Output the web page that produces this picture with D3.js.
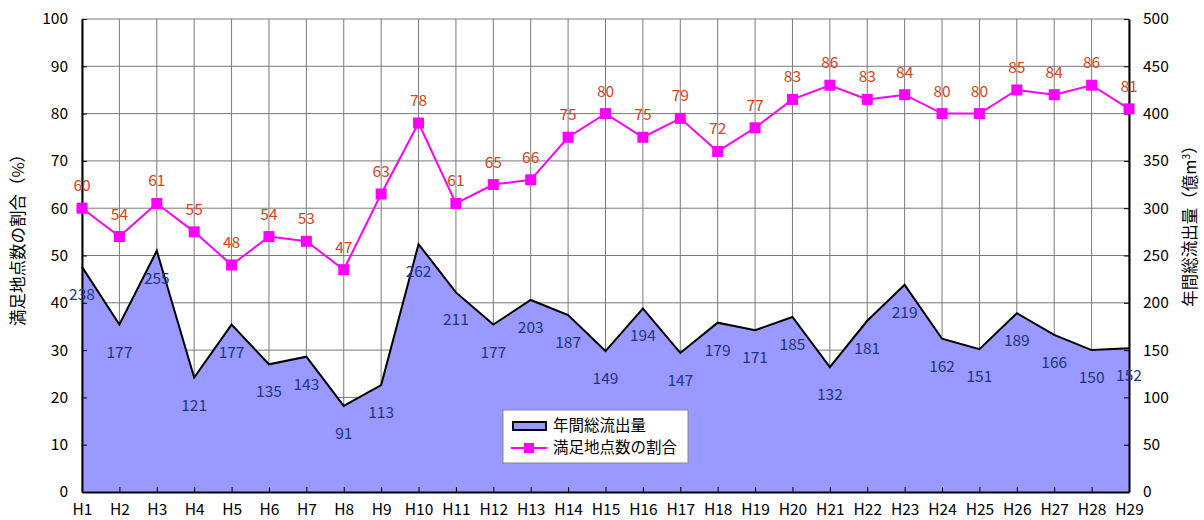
<!DOCTYPE html>
<html>
<head>
<meta charset="utf-8">
<script src="https://cdn.jsdelivr.net/npm/d3@7"></script>
<style>
  body { margin: 0; background: #fff; }
  svg text { font-family: "Noto Sans CJK JP", "Noto Sans", sans-serif; }
</style>
</head>
<body>
<script>
// 年度
var categories = ["H1","H2","H3","H4","H5","H6","H7","H8","H9","H10","H11","H12","H13","H14","H15",
  "H16","H17","H18","H19","H20","H21","H22","H23","H24","H25","H26","H27","H28","H29"];
// 年間総流出量 (億m3)
var flowValues = [238,177,255,121,177,135,143,91,113,262,211,177,203,187,149,
  194,147,179,171,185,132,181,219,162,151,189,166,150,152];
// 満足地点数の割合 (%)
var ratioValues = [60,54,61,55,48,54,53,47,63,78,61,65,66,75,80,
  75,79,72,77,83,86,83,84,80,80,85,84,86,81];
var leftTicks = [0,10,20,30,40,50,60,70,80,90,100];
var rightTicks = [0,50,100,150,200,250,300,350,400,450,500];

var width = 1204, height = 520;
var plotLeft = 82, plotRight = 1129, plotTop = 19, plotBottom = 492;

var svg = d3.select("body").append("svg").attr("width", width).attr("height", height);

var x = d3.scalePoint().domain(categories).range([plotLeft, plotRight]);
var yL = d3.scaleLinear().domain([0, 100]).range([plotBottom, plotTop]);
var yR = d3.scaleLinear().domain([0, 500]).range([plotBottom, plotTop]);

// grid
svg.append("g").selectAll("line")
  .data(leftTicks)
  .enter().append("line")
  .attr("x1", plotLeft).attr("x2", plotRight)
  .attr("y1", function(d){ return yL(d); }).attr("y2", function(d){ return yL(d); })
  .attr("stroke", "#7a7a7a").attr("stroke-width", 1);
svg.append("g").selectAll("line")
  .data(categories)
  .enter().append("line")
  .attr("x1", function(d){ return x(d); }).attr("x2", function(d){ return x(d); })
  .attr("y1", plotTop).attr("y2", plotBottom)
  .attr("stroke", "#7a7a7a").attr("stroke-width", 1);

// area
var area = d3.area()
  .x(function(d, i){ return x(categories[i]); })
  .y0(plotBottom)
  .y1(function(d){ return yR(d); });
svg.append("path").datum(flowValues).attr("d", area).attr("fill", "#9999ff");
var flowLine = d3.line()
  .x(function(d, i){ return x(categories[i]); })
  .y(function(d){ return yR(d); });
svg.append("path").datum(flowValues).attr("d", flowLine)
  .attr("fill", "none").attr("stroke", "#000").attr("stroke-width", 2);

// axes
var axL = svg.append("g").attr("transform", "translate(" + plotLeft + ",0)")
  .call(d3.axisLeft(yL).tickValues(leftTicks).tickSizeInner(-5).tickSizeOuter(0).tickPadding(14));
var axR = svg.append("g").attr("transform", "translate(" + plotRight + ",0)")
  .call(d3.axisRight(yR).tickValues(rightTicks).tickSizeInner(-5).tickSizeOuter(0).tickPadding(14));
var axB = svg.append("g").attr("transform", "translate(0," + plotBottom + ")")
  .call(d3.axisBottom(x).tickSizeInner(-5).tickSizeOuter(0).tickPadding(12));
[axL, axR, axB].forEach(function(a){
  a.select(".domain").attr("stroke", "#000").attr("stroke-width", 2);
  a.selectAll(".tick line").attr("stroke", "#000");
  a.selectAll("text").attr("font-size", 15.5).attr("fill", "#000")
    .style("font-family", "'Noto Sans CJK JP', sans-serif");
});

// ratio line
var ratioLine = d3.line()
  .x(function(d, i){ return x(categories[i]); })
  .y(function(d){ return yL(d); });
svg.append("path").datum(ratioValues).attr("d", ratioLine)
  .attr("fill", "none").attr("stroke", "#ff00ff").attr("stroke-width", 2);
svg.append("g").selectAll("rect")
  .data(ratioValues)
  .enter().append("rect")
  .attr("x", function(d, i){ return x(categories[i]) - 5.5; })
  .attr("y", function(d){ return yL(d) - 5.5; })
  .attr("width", 11).attr("height", 11)
  .attr("fill", "#ff00ff");

// labels
svg.append("g").selectAll("text")
  .data(ratioValues)
  .enter().append("text")
  .attr("x", function(d, i){ return x(categories[i]); })
  .attr("y", function(d){ return yL(d) - 17; })
  .attr("text-anchor", "middle")
  .attr("font-size", 15.5)
  .attr("fill", "#d9441a")
  .text(function(d){ return d; });
svg.append("g").selectAll("text")
  .data(flowValues)
  .enter().append("text")
  .attr("x", function(d, i){ return x(categories[i]); })
  .attr("y", function(d){ return yR(d) + 33; })
  .attr("text-anchor", "middle")
  .attr("font-size", 15.5)
  .attr("fill", "#1c3683")
  .text(function(d){ return d; });

// axis titles
svg.append("text")
  .attr("transform", "translate(24,236) rotate(-90)")
  .attr("text-anchor", "middle")
  .attr("font-size", 16.5)
  .text("満足地点数の割合（%）");
svg.append("text")
  .attr("transform", "translate(1196,222) rotate(-90)")
  .attr("text-anchor", "middle")
  .attr("font-size", 16.5)
  .html("年間総流出量（億m<tspan dy='-6' font-size='10'>3</tspan><tspan dy='6'>）</tspan>");

// legend
var lg = svg.append("g").attr("transform", "translate(503,410)");
lg.append("rect").attr("width", 185).attr("height", 53)
  .attr("fill", "#fff").attr("stroke", "#888");
lg.append("rect").attr("x", 10).attr("y", 12).attr("width", 33).attr("height", 8)
  .attr("fill", "#9999ff").attr("stroke", "#000").attr("stroke-width", 2);
lg.append("text").attr("x", 50).attr("y", 16).attr("dy", "0.35em")
  .attr("font-size", 15.5).text("年間総流出量");
lg.append("line").attr("x1", 8).attr("x2", 44).attr("y1", 38).attr("y2", 38)
  .attr("stroke", "#ff00ff").attr("stroke-width", 2);
lg.append("rect").attr("x", 21).attr("y", 33).attr("width", 10).attr("height", 10)
  .attr("fill", "#ff00ff");
lg.append("text").attr("x", 50).attr("y", 38).attr("dy", "0.35em")
  .attr("font-size", 15.5).text("満足地点数の割合");
</script>
</body>
</html>
